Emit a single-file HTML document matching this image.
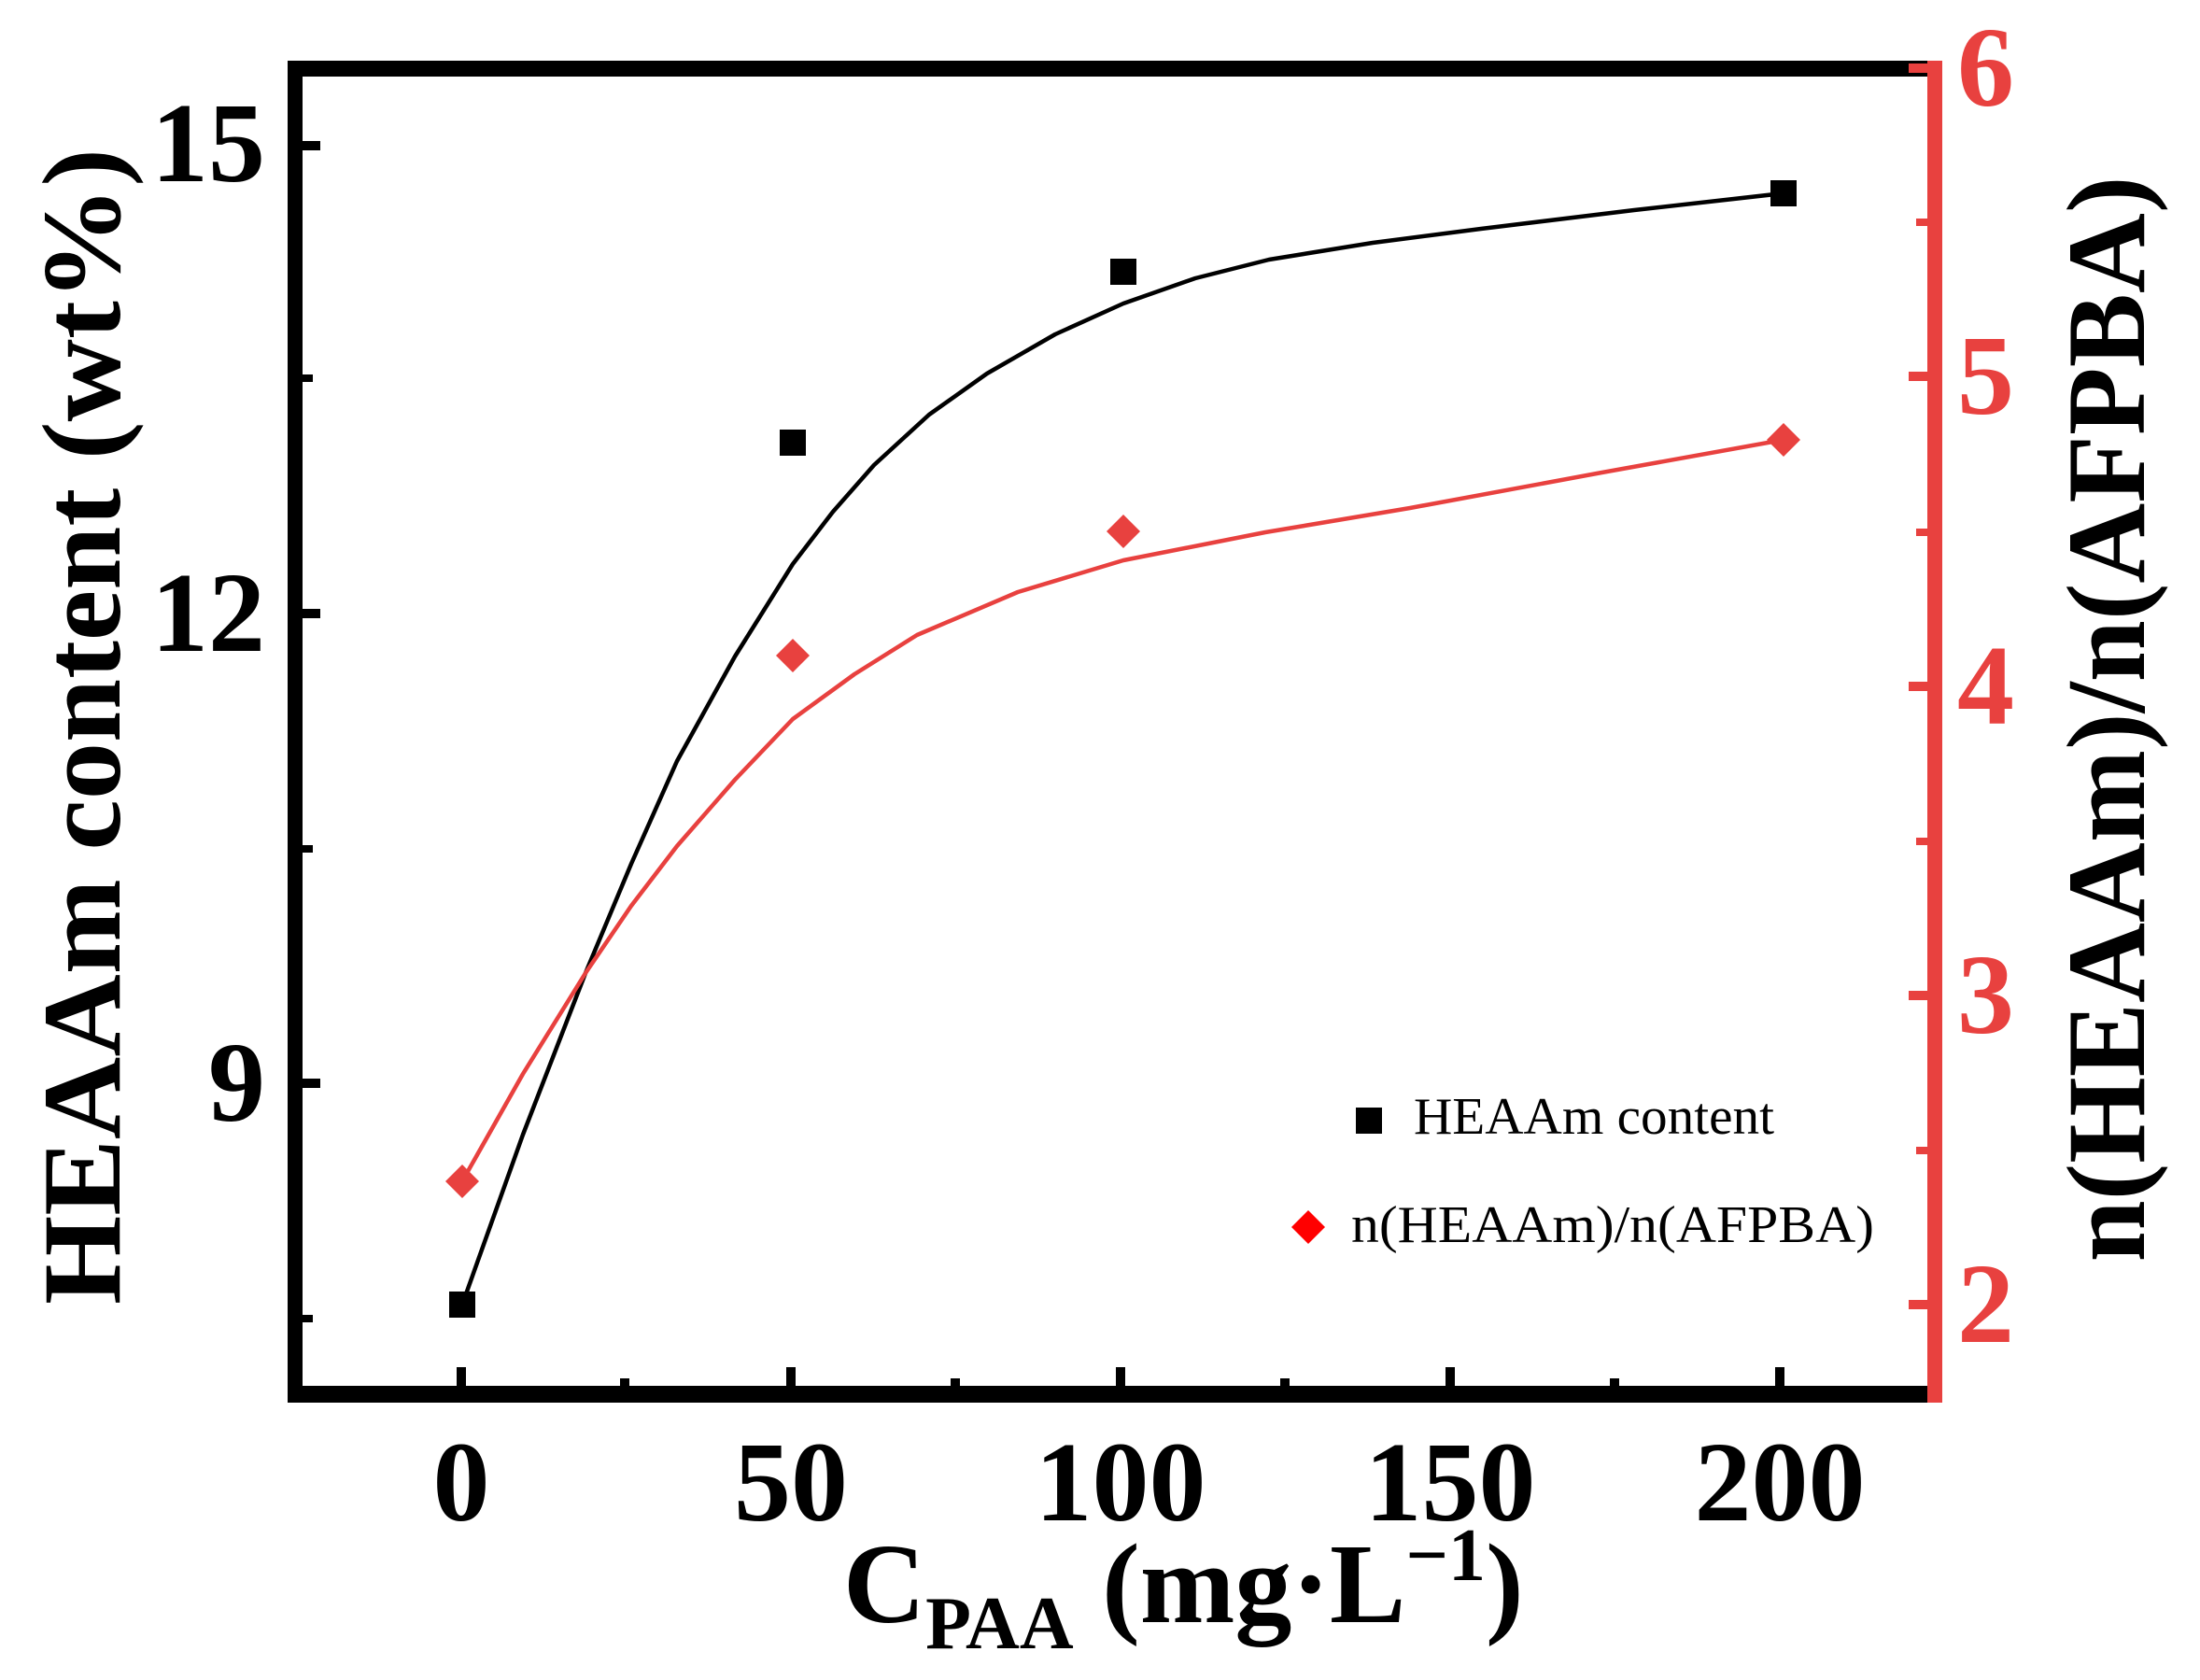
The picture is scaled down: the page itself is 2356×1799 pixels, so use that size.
<!DOCTYPE html>
<html><head><meta charset="utf-8"><style>html,body{margin:0;padding:0;background:#fff;}svg{display:block;}</style></head>
<body>
<svg width="2356" height="1799" viewBox="0 0 2356 1799" xmlns="http://www.w3.org/2000/svg" font-family="'Liberation Serif', serif">
<rect width="2356" height="1799" fill="#fff"/>
<!-- curves -->
<polyline points="495,1397 560,1215 627,1042 676,925 725,815 787,703 849,604 892,548 936,498 995,444 1057,400 1130,358 1203,325 1280,298 1359,278 1470,260 1586,245 1750,225 1910,207" fill="none" stroke="#000" stroke-width="4.5" stroke-linejoin="round"/>
<polyline points="495,1265 560,1150 627,1042 676,970 725,906 787,835 849,770 915,722 982,680 1090,634 1203,600 1355,570 1510,544 1710,507 1910,471" fill="none" stroke="#e8413f" stroke-width="4.5" stroke-linejoin="round"/>
<!-- axes -->
<rect x="308" y="65" width="1766" height="17" fill="#000"/>
<rect x="308" y="65" width="16" height="1437" fill="#000"/>
<rect x="308" y="1484" width="1766" height="18" fill="#000"/>
<rect x="2064" y="65" width="16" height="1437" fill="#e8413f"/>
<!-- left ticks -->
<g fill="#000">
<rect x="323" y="151" width="20" height="10"/>
<rect x="323" y="401" width="12" height="8"/>
<rect x="323" y="652" width="20" height="10"/>
<rect x="323" y="905" width="12" height="8"/>
<rect x="323" y="1155" width="20" height="10"/>
<rect x="323" y="1408" width="12" height="8"/>
</g>
<!-- bottom ticks -->
<g fill="#000">
<rect x="489" y="1464" width="10" height="20"/>
<rect x="664" y="1476" width="10" height="8"/>
<rect x="842" y="1464" width="10" height="20"/>
<rect x="1018" y="1476" width="10" height="8"/>
<rect x="1195" y="1464" width="10" height="20"/>
<rect x="1371" y="1476" width="10" height="8"/>
<rect x="1548" y="1464" width="10" height="20"/>
<rect x="1724" y="1476" width="10" height="8"/>
<rect x="1901" y="1464" width="10" height="20"/>
</g>
<!-- right ticks -->
<g fill="#e8413f">
<rect x="2044" y="68" width="20" height="10"/>
<rect x="2052" y="234" width="12" height="8"/>
<rect x="2044" y="398" width="20" height="10"/>
<rect x="2052" y="566" width="12" height="8"/>
<rect x="2044" y="730" width="20" height="10"/>
<rect x="2052" y="897" width="12" height="8"/>
<rect x="2044" y="1061" width="20" height="10"/>
<rect x="2052" y="1228" width="12" height="8"/>
<rect x="2044" y="1392" width="20" height="10"/>
</g>
<!-- markers -->
<g fill="#000">
<rect x="481" y="1383" width="28" height="28"/>
<rect x="835" y="460" width="28" height="28"/>
<rect x="1189" y="277" width="28" height="28"/>
<rect x="1896" y="193" width="28" height="28"/>
</g>
<g fill="#e8413f">
<polygon points="495,1247 513,1265 495,1283 477,1265"/>
<polygon points="849,684 867,702 849,720 831,702"/>
<polygon points="1203,551 1221,569 1203,587 1185,569"/>
<polygon points="1910,453 1928,471 1910,489 1892,471"/>
</g>
<!-- left tick labels -->
<g font-size="122" font-weight="bold" text-anchor="end" fill="#000">
<text x="284" y="194">15</text>
<text x="284" y="697">12</text>
<text x="284" y="1200">9</text>
</g>
<!-- right tick labels -->
<g font-size="122" font-weight="bold" fill="#e8413f">
<text x="2096" y="113">6</text>
<text x="2096" y="443">5</text>
<text x="2096" y="775">4</text>
<text x="2096" y="1106">3</text>
<text x="2096" y="1437">2</text>
</g>
<!-- bottom labels -->
<g font-size="122" font-weight="bold" text-anchor="middle" fill="#000">
<text x="494" y="1628">0</text>
<text x="847" y="1628">50</text>
<text x="1200" y="1628">100</text>
<text x="1553" y="1628">150</text>
<text x="1906" y="1628">200</text>
</g>
<!-- x title -->
<text x="903" y="1737" font-size="122" font-weight="bold" fill="#000">C<tspan font-size="80" dy="28">PAA</tspan><tspan dy="-28"> (mg·L</tspan><tspan font-size="80" dy="-45">−1</tspan><tspan dy="45">)</tspan></text>
<!-- y titles -->
<text transform="translate(128,778) rotate(-90)" text-anchor="middle" font-size="120" font-weight="bold" fill="#000" textLength="1238" lengthAdjust="spacingAndGlyphs">HEAAm content (wt%)</text>
<text transform="translate(2296,770) rotate(-90)" text-anchor="middle" font-size="120" font-weight="bold" fill="#000" textLength="1163" lengthAdjust="spacingAndGlyphs">n(HEAAm)/n(AFPBA)</text>
<!-- legend -->
<rect x="1452" y="1186" width="28" height="28" fill="#000"/>
<text x="1514" y="1214" font-size="56" fill="#000" textLength="386" lengthAdjust="spacingAndGlyphs">HEAAm content</text>
<polygon points="1401,1296 1419,1314 1401,1332 1383,1314" fill="#f00"/>
<text x="1447" y="1330" font-size="56" fill="#000" textLength="560" lengthAdjust="spacingAndGlyphs">n(HEAAm)/n(AFPBA)</text>
</svg>
</body></html>
